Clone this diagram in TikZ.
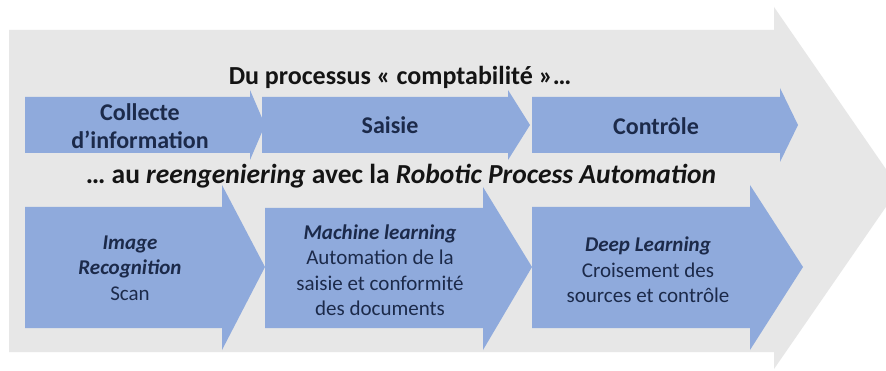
\documentclass[tikz,border=0pt]{standalone}
\usepackage{fontspec}
\setmainfont{Carlito}
\definecolor{bgarrow}{HTML}{E7E7E7}
\definecolor{steparrow}{HTML}{8FAADC}
\definecolor{navytext}{HTML}{1C2A4A}
\definecolor{titletext}{HTML}{141414}
\tikzset{
  stage/.style={fill=steparrow, draw=none},
  toplabel/.style={align=center, text=navytext, font=\fontsize{24}{27.5}\selectfont\bfseries},
  lowlabel/.style={align=center, text=navytext, font=\fontsize{21}{25.5}\selectfont},
  headline/.style={text=titletext, font=\fontsize{26}{30}\selectfont\bfseries}
}
\begin{document}
\begin{tikzpicture}[x=1pt, y=-1pt]
  \useasboundingbox (0,0) rectangle (886,371);
  \clip (0,0) rectangle (886,371);
  \fill[white] (0,0) rectangle (886,371);

  % large background arrow
  \fill[bgarrow] (9,30) -- (774,30) -- (774,7) -- (899,188) -- (774,369)
    -- (774,352) -- (9,352) -- cycle;

  % traditional process: three chevrons
  \fill[stage] (25,97) -- (250,97) -- (250,90) -- (265,125) -- (250,160)
    -- (250,153) -- (25,153) -- cycle;
  \fill[stage] (262,97) -- (508,97) -- (508,90) -- (530,125) -- (508,160)
    -- (508,153) -- (262,153) -- cycle;
  \fill[stage] (532,97) -- (780,97) -- (780,88) -- (798,125) -- (780,162)
    -- (780,153) -- (532,153) -- cycle;

  % RPA process: three large arrows
  \fill[stage] (25,207) -- (222,207) -- (222,185) -- (265,267) -- (222,350)
    -- (222,328) -- (25,328) -- cycle;
  \fill[stage] (265,208) -- (483,208) -- (483,187) -- (532,267) -- (483,350)
    -- (483,328) -- (265,328) -- cycle;
  \fill[stage] (532,207) -- (750,207) -- (750,185) -- (803,267) -- (750,350)
    -- (750,328) -- (532,328) -- cycle;

  % headings
  \node[headline] (title1) at (400,77) {Du processus « comptabilité »…};
  \node[headline, font=\fontsize{27.5}{31}\selectfont\bfseries] (title2) at (401,176)
    {… au \textit{reengeniering} avec la \textit{Robotic Process Automation}};

  % labels of the first row
  \node[toplabel] (collect) at (140,126) {Collecte\\d’information};
  \node[toplabel] (saisie) at (390,125) {Saisie};
  \node[toplabel] (controle) at (656,126) {Contrôle};

  % labels of the second row
  \node[lowlabel] (image) at (130,268)
    {\textbf{\textit{Image}}\\\textbf{\textit{Recognition}}\\Scan};
  \node[lowlabel] (machine) at (380,270)
    {\textbf{\textit{Machine learning}}\\Automation de la\\saisie et conformité\\des documents};
  \node[lowlabel] (deep) at (648,270)
    {\textbf{\textit{Deep Learning}}\\Croisement des\\sources et contrôle};
\end{tikzpicture}
\end{document}
